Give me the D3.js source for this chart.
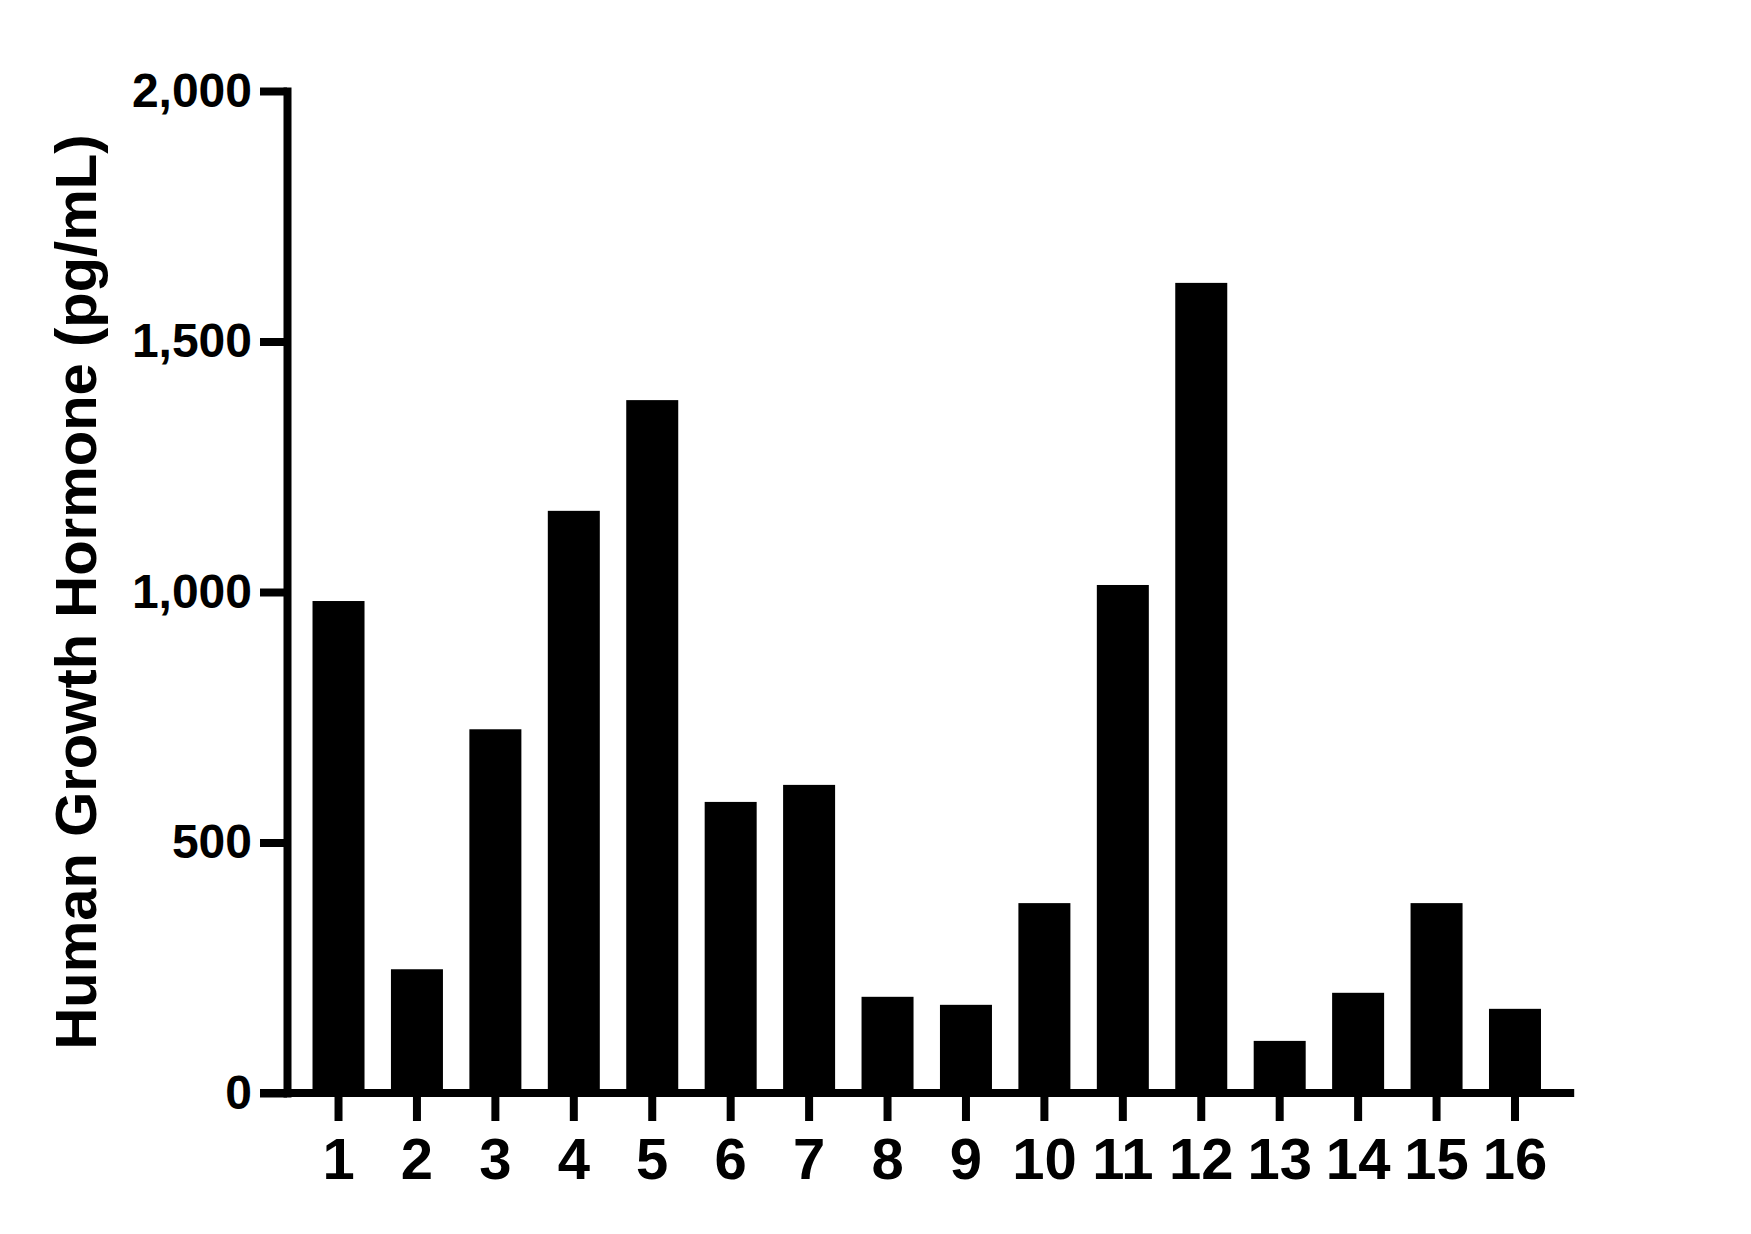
<!DOCTYPE html>
<html>
<head>
<meta charset="utf-8">
<script src="https://cdn.jsdelivr.net/npm/d3@7"></script>
<style>
  body { margin: 0; background: #fff; }
  text { font-family: "Liberation Sans", Arial, sans-serif; font-weight: bold; fill: #000; }
</style>
</head>
<body>
<script>
// values
var samples = ["1", "2", "3", "4", "5", "6", "7", "8", "9", "10", "11", "12", "13", "14", "15", "16"];
var hgh = [982, 247, 726, 1162, 1383, 581, 615, 192, 176, 379, 1014, 1617, 104, 200, 379, 168];
var yTicks = [0, 500, 1000, 1500, 2000];
var yTitle = "Human Growth Hormone (pg/mL)";

var width = 1751, height = 1234;
var axisX = 287, yTickLen = 27, xTickLen = 28, lineW = 8;

const svg = d3.select("body")
    .append("svg")
    .attr("width", width)
    .attr("height", height);

var xscale = d3.scaleBand()
    .domain(samples)
    .range([299.3, 1554.2])
    .paddingInner(0.337)
    .paddingOuter(0.1685);

var yscale = d3.scaleLinear()
    .domain([0, 2000])
    .range([1093, 91]);

// bars
svg.append("g")
    .selectAll("rect")
    .data(samples)
    .join("rect")
    .attr("x", d => xscale(d))
    .attr("y", (d, i) => yscale(hgh[i]))
    .attr("width", xscale.bandwidth())
    .attr("height", (d, i) => yscale(0) - yscale(hgh[i]))
    .attr("fill", "#000");

// y-axis
var yAxis = svg.append("g")
    .attr("transform", `translate(${axisX},0)`)
    .call(d3.axisLeft(yscale)
        .tickValues(yTicks)
        .tickFormat(d3.format(","))
        .tickSize(yTickLen)
        .tickSizeOuter(0)
        .tickPadding(8));
yAxis.select(".domain")
    .attr("stroke", "#000")
    .attr("stroke-width", lineW)
    .attr("stroke-linecap", "square");
yAxis.selectAll(".tick line")
    .attr("stroke", "#000")
    .attr("stroke-width", lineW);
yAxis.selectAll(".tick text")
    .attr("font-size", 48);

// x-axis
var xAxis = svg.append("g")
    .attr("transform", `translate(0,${yscale(0)})`)
    .call(d3.axisBottom(xscale)
        .tickSize(xTickLen)
        .tickSizeOuter(0)
        .tickPadding(17));
xAxis.select(".domain").remove();
xAxis.append("line")
    .attr("x1", axisX - yTickLen)
    .attr("x2", xscale.range()[1] + 20)
    .attr("stroke", "#000")
    .attr("stroke-width", lineW);
xAxis.selectAll(".tick line")
    .attr("stroke", "#000")
    .attr("stroke-width", lineW);
xAxis.selectAll(".tick text")
    .attr("font-size", 58);

svg.selectAll(".tick text").attr("font-family", null);
svg.selectAll("g").attr("font-family", null);

// y-axis title
svg.append("text")
    .attr("transform", "rotate(-90)")
    .attr("x", -(yscale(0) + yscale(2000)) / 2)
    .attr("y", 96)
    .attr("text-anchor", "middle")
    .attr("font-size", 58)
    .text(yTitle);
</script>
</body>
</html>
